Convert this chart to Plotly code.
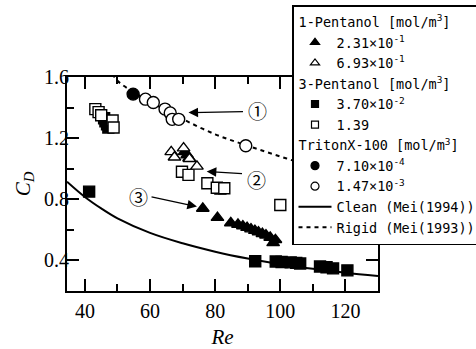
import plotly.graph_objects as go

# ---------------- data ----------------
# 1-Pentanol 2.31e-1 (filled triangles)
p1a_re = [70.6, 71.4, 72.0, 76.2, 80.7, 84.8, 87.0, 88.5, 89.8, 91.0, 92.2, 93.3, 94.5, 95.6, 96.9, 97.8, 98.5]
p1a_cd = [1.11, 1.09, 1.07, 0.74, 0.68, 0.645, 0.635, 0.625, 0.615, 0.605, 0.595, 0.585, 0.575, 0.565, 0.55, 0.515, 0.535]
# 1-Pentanol 6.93e-1 (open triangles)
p1b_re = [66.5, 67.5, 70.3, 72.1, 74.4]
p1b_cd = [1.11, 1.075, 1.135, 1.065, 1.015]
# 3-Pentanol 3.70e-2 (filled squares)
p3a_re = [41.3, 45.9, 46.3, 46.8, 47.2, 81.6, 92.3, 98.6, 100.4, 103.2, 104.9, 106.1, 112.2, 114.2, 116.2, 120.6]
p3a_cd = [0.85, 1.33, 1.31, 1.29, 1.27, 0.87, 0.395, 0.393, 0.39, 0.387, 0.384, 0.38, 0.36, 0.355, 0.348, 0.335]
# 3-Pentanol 1.39 (open squares)
p3b_re = [43.2, 44.2, 45.0, 48.5, 48.8, 69.8, 71.8, 77.6, 80.5, 82.8, 100.0]
p3b_cd = [1.39, 1.37, 1.35, 1.315, 1.27, 0.98, 0.96, 0.905, 0.875, 0.872, 0.763]
# TritonX-100 7.10e-4 (filled circles)
tx_a_re = [54.8]
tx_a_cd = [1.488]
# TritonX-100 1.47e-3 (open circles)
tx_b_re = [58.6, 61.0, 64.6, 66.2, 66.8, 68.8, 89.4]
tx_b_cd = [1.455, 1.433, 1.39, 1.365, 1.323, 1.323, 1.15]
# Clean bubble, Mei (1994)
clean_re = [34.5, 40, 45, 50, 60, 70, 80, 90, 100, 110, 120, 130]
clean_cd = [0.915, 0.815, 0.74, 0.675, 0.58, 0.512, 0.457, 0.412, 0.375, 0.345, 0.32, 0.298]
# Rigid sphere, Mei (1993)
rigid_re = [48.5, 50, 55, 60, 65, 70, 80, 90, 100, 110, 120, 130]
rigid_cd = [1.62, 1.575, 1.50, 1.44, 1.38, 1.325, 1.225, 1.15, 1.08, 1.015, 0.965, 0.915]

legend_names = {
    "p1a": "2.31×10<sup>-1</sup>",
    "p1b": "6.93×10<sup>-1</sup>",
    "p3a": "3.70×10<sup>-2</sup>",
    "p3b": "1.39",
    "txa": "7.10×10<sup>-4</sup>",
    "txb": "1.47×10<sup>-3</sup>",
}
group_titles = ["1-Pentanol [mol/m<sup>3</sup>]", "3-Pentanol [mol/m<sup>3</sup>]", "TritonX-100 [mol/m<sup>3</sup>]"]

# ---------------- figure ----------------
fig = go.Figure()
LEGFONT = dict(family="DejaVu Sans Mono", size=13.5, color="black")

def legend_dummy(name, group, title, symbol, fill, size, rank):
    fig.add_trace(go.Scatter(
        x=[None], y=[None], mode="markers", name=name, legendgroup=group,
        legendgrouptitle=dict(text=title, font=LEGFONT),
        legendrank=rank,
        marker=dict(symbol=symbol, size=size, color=fill, line=dict(color="black", width=1.2))))

legend_dummy(legend_names["p1a"], "g1", group_titles[0], "triangle-up", "black", 8, 1)
legend_dummy(legend_names["p1b"], "g1", group_titles[0], "triangle-up", "white", 8, 2)
legend_dummy(legend_names["p3a"], "g2", group_titles[1], "square", "black", 7, 3)
legend_dummy(legend_names["p3b"], "g2", group_titles[1], "square", "white", 7, 4)
legend_dummy(legend_names["txa"], "g3", group_titles[2], "circle", "black", 8, 5)
legend_dummy(legend_names["txb"], "g3", group_titles[2], "circle", "white", 8, 6)

fig.add_trace(go.Scatter(x=clean_re, y=clean_cd, mode="lines", name="Clean (Mei(1994))",
                         legendgroup="g4", legendrank=7,
                         line=dict(color="black", width=2, shape="spline")))
fig.add_trace(go.Scatter(x=rigid_re, y=rigid_cd, mode="lines", name="Rigid (Mei(1993))",
                         legendgroup="g4", legendrank=8,
                         line=dict(color="black", width=2, dash="4px,4px", shape="spline")))

def data_trace(x, y, symbol, fill, size):
    fig.add_trace(go.Scatter(x=x, y=y, mode="markers", showlegend=False,
                             marker=dict(symbol=symbol, size=size, color=fill,
                                         line=dict(color="black", width=1.4))))

data_trace(p3a_re, p3a_cd, "square", "black", 11)
data_trace(p3b_re, p3b_cd, "square", "white", 11)
data_trace(p1a_re, p1a_cd, "triangle-up", "black", 11)
data_trace(p1b_re, p1b_cd, "triangle-up", "white", 11)
data_trace(tx_a_re, tx_a_cd, "circle", "black", 12)
data_trace(tx_b_re, tx_b_cd, "circle", "white", 12)

TICKFONT = dict(family="Liberation Serif", size=20, color="black")
axis_common = dict(showline=True, linecolor="black", linewidth=2, mirror="allticks",
                   ticks="inside", tickcolor="black", tickwidth=1.5, ticklen=12,
                   showgrid=False, zeroline=False, tickfont=TICKFONT)

fig.update_layout(
    width=476, height=349,
    margin=dict(l=67, r=98, t=77, b=58, autoexpand=False),
    paper_bgcolor="white", plot_bgcolor="white",
    xaxis=dict(range=[34.5, 130], tick0=40, dtick=20,
               minor=dict(ticks="inside", ticklen=7, dtick=10, tick0=40, tickwidth=1.5, tickcolor="black"),
               title=dict(text="<i>Re</i>", font=dict(family="Liberation Serif", size=21, color="black"), standoff=8),
               ticklabelstandoff=1,
               **axis_common),
    yaxis=dict(range=[0.2, 1.6], tick0=0.4, dtick=0.4, tickformat=".1f",
               minor=dict(ticks="inside", ticklen=7, dtick=0.2, tick0=0.2, tickwidth=1.5, tickcolor="black"),
               title=dict(text="<i>C<sub>D</sub></i>", font=dict(family="Liberation Serif", size=21, color="black"), standoff=8),
               ticklabelstandoff=-8,
               **axis_common),
    legend=dict(x=(292 - 67) / 311, y=(291 - 5) / 214, xanchor="left", yanchor="top",
                bgcolor="white", bordercolor="black", borderwidth=1.5, maxheight=345,
                font=LEGFONT, traceorder="grouped", tracegroupgap=0, itemwidth=33),
    showlegend=True,
)

ARROW = dict(xref="x", yref="y", axref="x", ayref="y", text="", showarrow=True,
             arrowhead=2, arrowsize=1.6, arrowwidth=1.2, arrowcolor="black")
fig.add_annotation(x=71.8, y=1.367, ax=89.0, ay=1.373, **ARROW)
fig.add_annotation(x=77.4, y=0.982, ax=88.7, ay=0.967, **ARROW)
fig.add_annotation(x=74.4, y=0.752, ax=60.0, ay=0.818, **ARROW)

CIRC = dict(family="Noto Sans CJK JP", size=19, color="black")
fig.add_annotation(x=92.9, y=1.382, text="①", showarrow=False, font=CIRC)
fig.add_annotation(x=92.8, y=0.932, text="②", showarrow=False, font=CIRC)
fig.add_annotation(x=56.4, y=0.818, text="③", showarrow=False, font=CIRC)

fig.write_html("out.html", config={"displayModeBar": False},
               post_script="document.body.style.margin='0px';")
